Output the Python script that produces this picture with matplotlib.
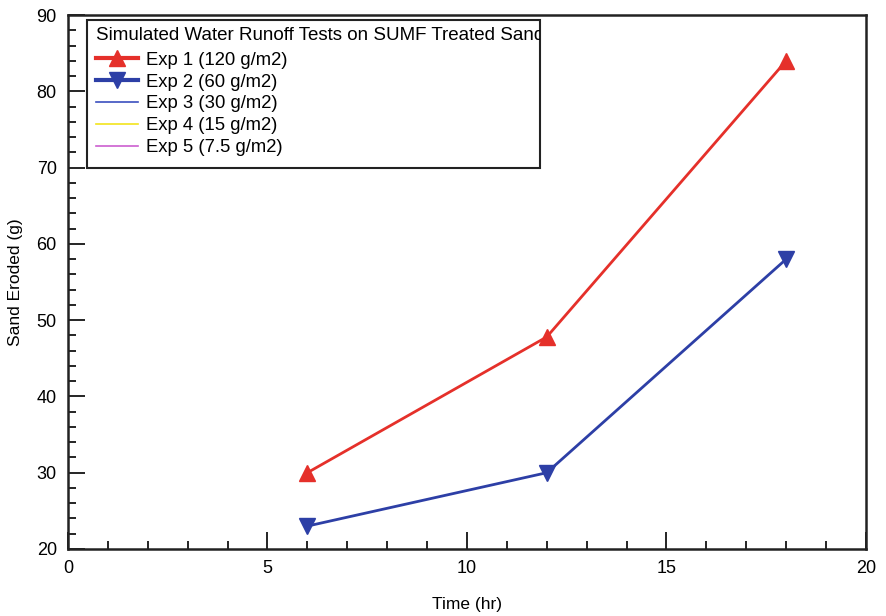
import matplotlib
matplotlib.use("Agg")
import matplotlib.pyplot as plt
from matplotlib.patches import Rectangle
from matplotlib.lines import Line2D
from matplotlib.ticker import MultipleLocator

plt.rcParams['font.family'] = ['Liberation Sans', 'DejaVu Sans']

time_hr = [6, 12, 18]
exp1_eroded = [30.0, 47.8, 84.0]
exp2_eroded = [23.0, 30.0, 58.0]

series_labels = ["Exp 1 (120 g/m2)", "Exp 2 (60 g/m2)", "Exp 3 (30 g/m2)",
                 "Exp 4 (15 g/m2)", "Exp 5 (7.5 g/m2)"]
legend_title = "Simulated Water Runoff Tests on SUMF Treated Sand"

RED = '#e5302a'
BLUE = '#2d3fa6'
BLUE3 = '#3b4fbf'
YELLOW = '#f2e41c'
MAGENTA = '#cc5fd0'

fig = plt.figure(figsize=(8.86, 6.16), dpi=100)
ax = fig.add_axes([0.0767, 0.1088, 0.9007, 0.8668])

ax.plot(time_hr, exp1_eroded, color=RED, lw=2, marker='^', ms=11.5, zorder=3)
ax.plot(time_hr, exp2_eroded, color=BLUE, lw=2, marker='v', ms=11.5, zorder=3)

ax.set_xlim(0, 20)
ax.set_ylim(20, 90)
ax.xaxis.set_major_locator(MultipleLocator(5))
ax.xaxis.set_minor_locator(MultipleLocator(1))
ax.yaxis.set_major_locator(MultipleLocator(10))
ax.yaxis.set_minor_locator(MultipleLocator(2))
ax.tick_params(which='both', direction='in', top=False, right=False,
               labelsize=13, width=1.2, pad=8)
ax.tick_params(which='major', length=12)
ax.tick_params(which='minor', length=6)
for sp in ax.spines.values():
    sp.set_linewidth(1.8)
    sp.set_color('#222222')

ax.set_xlabel("Time (hr)", fontsize=12.5, labelpad=14)
ax.set_ylabel("Sand Eroded (g)", fontsize=12.5, labelpad=10)

# Legend box with a title line clipped to its frame
box = Rectangle((0.0238, 0.7135), 0.5677, 0.2771, transform=ax.transAxes,
                facecolor='white', edgecolor='#222222', lw=1.5, zorder=5)
ax.add_patch(box)
title = ax.text(0.035, 0.961, legend_title, transform=ax.transAxes,
                fontsize=13.5, va='center', ha='left', zorder=6, clip_on=True)
title.set_clip_path(box)

handles = [
    Line2D([], [], color=RED, lw=3, marker='^', ms=11.5),
    Line2D([], [], color=BLUE, lw=3, marker='v', ms=11.5),
    Line2D([], [], color=BLUE3, lw=1.2),
    Line2D([], [], color=YELLOW, lw=1.2),
    Line2D([], [], color=MAGENTA, lw=1.2),
]
leg = ax.legend(handles, series_labels, loc='upper left',
                bbox_to_anchor=(0.035, 0.931), frameon=False, fontsize=13.3,
                handlelength=2.3, handletextpad=0.4, labelspacing=0.26,
                borderpad=0, borderaxespad=0, markerscale=1.0)
leg.set_zorder(7)

fig.savefig("out.png", dpi=100)
